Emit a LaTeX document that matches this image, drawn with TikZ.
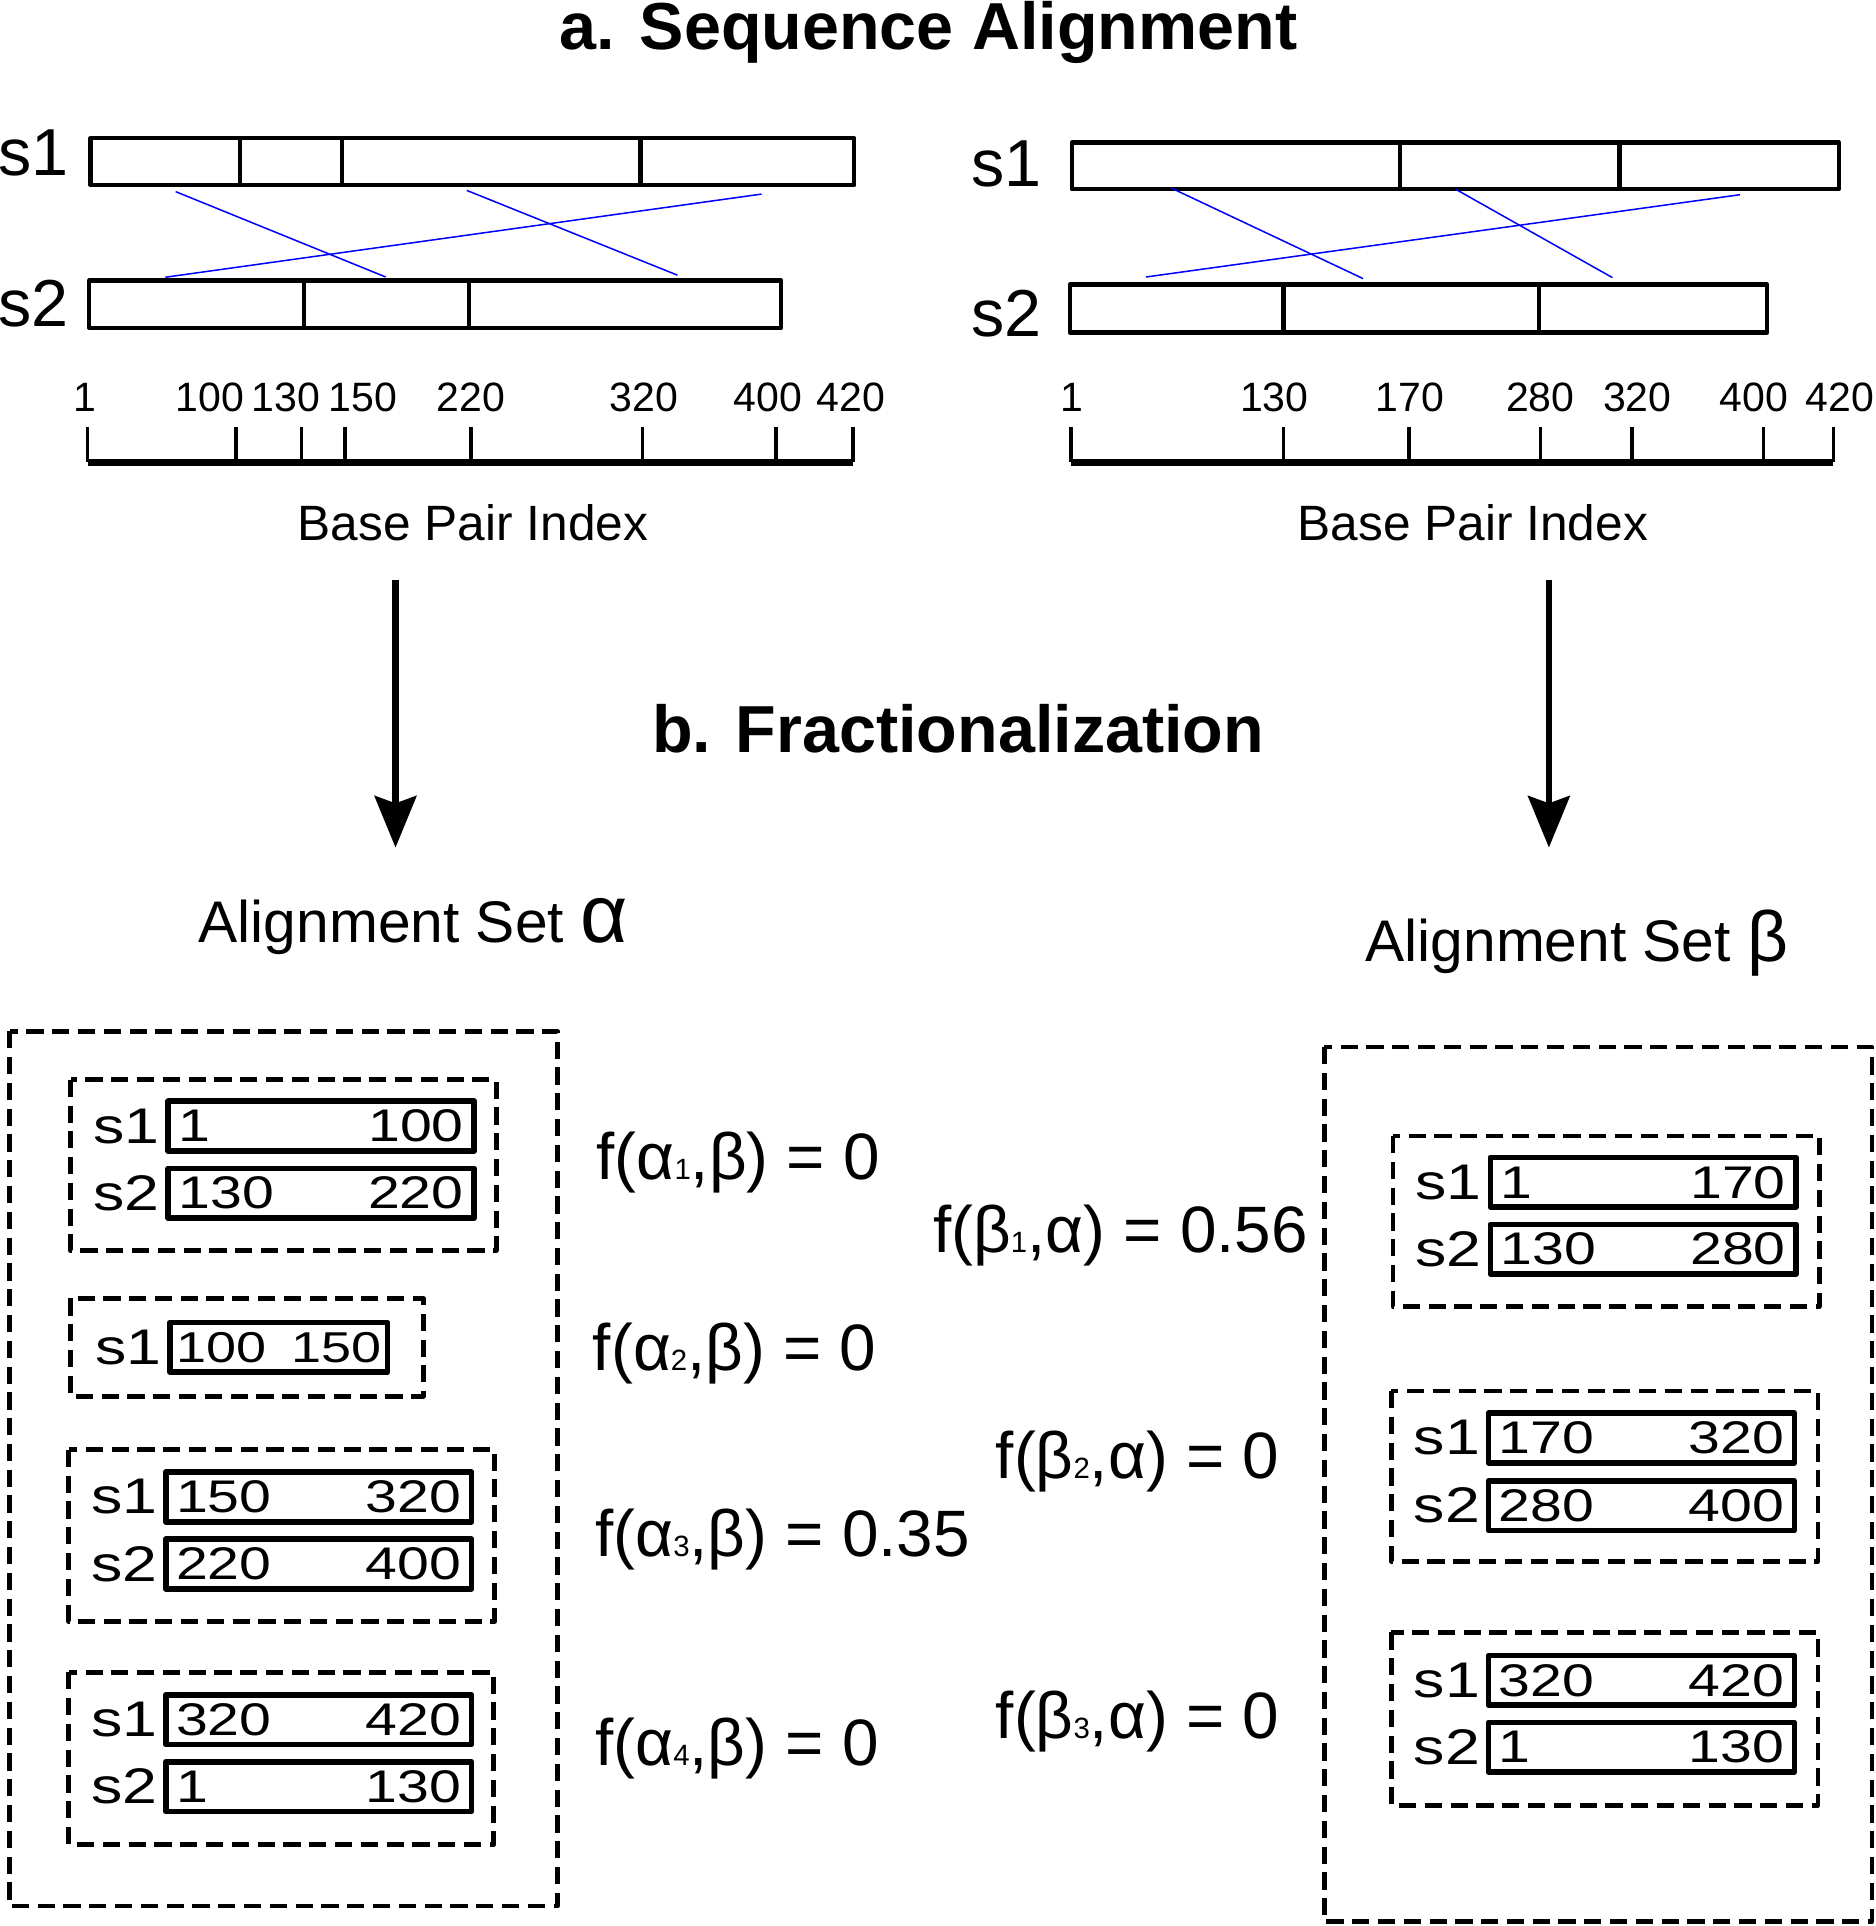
\documentclass[tikz,border=0pt]{standalone}
\usepackage{fontspec}
\setmainfont{Liberation Sans}
\newfontfamily\boxfont[FakeStretch=1.25]{Liberation Sans}
\usetikzlibrary{arrows.meta,positioning}
\setlength\parindent{0pt}
\newcommand\fsub[1]{{\fontsize{6.8}{7}\selectfont #1}}

\begin{document}
\begin{tikzpicture}[x=0.1mm, y=-0.1mm, line join=round,
	seqbar/.style={line width=1pt},
	match/.style={blue, line width=0.35pt},
	axisline/.style={line width=1.8pt},
	tickmark/.style={line width=0.8pt},
	ticklbl/.style={anchor=base, inner sep=0pt, font=\fontsize{9.5}{11}\selectfont},
	axlbl/.style={anchor=base, inner sep=0pt, font=\fontsize{11.5}{13}\selectfont},
	seqlbl/.style={anchor=base west, inner sep=0pt, font=\fontsize{15.4}{18}\selectfont},
	heading/.style={anchor=base, inner sep=0pt, font=\fontsize{15.4}{18}\selectfont\bfseries},
	flow/.style={line width=1.4pt, -{Stealth[length=4.2mm, width=3.4mm, inset=0.6mm]}},
	setlbl/.style={anchor=base west, inner sep=0pt, font=\fontsize{13.6}{16}\selectfont},
	setbox/.style={dash pattern=on 1.4mm off 0.7mm, line width=1.1pt},
	seg/.style={draw, line width=1.3pt, text width=23.2mm, inner xsep=0.85mm, inner ysep=0pt,
		minimum height=4.05mm, align=left, font=\boxfont\fontsize{10.6}{12}\selectfont},
	seglbl/.style={inner sep=0pt, font=\boxfont\fontsize{11.6}{13}\selectfont},
	score/.style={anchor=base west, inner sep=0pt, font=\fontsize{15.2}{17}\selectfont}]
	\path[use as bounding box, fill=white] (0,0) rectangle (1527,1568);

	% a. sequence alignment
	\node[heading] (ta) at (756,40) {a. Sequence Alignment};

	% left alignment
	\node[seqlbl] (ls1) at (-2,143) {s1};
	\node[seqlbl] (ls2) at (-2,266) {s2};
	\draw[seqbar] (73.6,112.5) rectangle (695.5,150.7);
	\foreach \x in {195.6,278.6,521.5} \draw[seqbar] (\x,112.5) -- (\x,150.7);
	\draw[seqbar] (72.7,228.4) rectangle (636,266.8);
	\foreach \x in {247.6,382} \draw[seqbar] (\x,228.4) -- (\x,266.8);
	\coordinate (lm1a) at (143,156);   \coordinate (lm1b) at (314,225.5);
	\coordinate (lm2a) at (380,155);   \coordinate (lm2b) at (551.5,224);
	\coordinate (lm3a) at (620,158);   \coordinate (lm3b) at (134.6,225.7);
	\foreach \m in {1,2,3} \draw[match] (lm\m a) -- (lm\m b);
	\draw[axisline] (71.3,376.5) -- (694.6,376.5);
	\foreach \x/\lx/\t in {71.3/69.4/1, 192.3/171/100, 245.3/233/130, 281/295.5/150,
		383.6/383.6/220, 523/524/320, 631.7/625/400, 694.6/692.7/420}{
		\draw[tickmark] (\x,348) -- (\x,376.5);
		\node[ticklbl] (la\t) at (\lx,335) {\t};}
	\node[axlbl] (lbp) at (385,440) {Base Pair Index};

	% right alignment
	\node[seqlbl] (rs1) at (790,152) {s1};
	\node[seqlbl] (rs2) at (790,274) {s2};
	\draw[seqbar] (872.6,116) rectangle (1497,154);
	\foreach \x in {1139.5,1318.5} \draw[seqbar] (\x,116) -- (\x,154);
	\draw[seqbar] (871,231.7) rectangle (1438.7,270.8);
	\foreach \x in {1044.8,1253} \draw[seqbar] (\x,231.7) -- (\x,270.8);
	\coordinate (rm1a) at (953.4,153);  \coordinate (rm1b) at (1109.7,226.8);
	\coordinate (rm2a) at (1185,154);   \coordinate (rm2b) at (1312.7,226);
	\coordinate (rm3a) at (1416.6,158.5); \coordinate (rm3b) at (933,225.5);
	\foreach \m in {1,2,3} \draw[match] (rm\m a) -- (rm\m b);
	\draw[axisline] (872,376.5) -- (1492.6,376.5);
	\foreach \x/\lx/\t in {872/873/1, 1045/1037.5/130, 1147/1148/170, 1254/1254/280,
		1328.6/1333/320, 1435.8/1428/400, 1492.6/1498/420}{
		\draw[tickmark] (\x,348) -- (\x,376.5);
		\node[ticklbl] (ra\t) at (\lx,335) {\t};}
	\node[axlbl] (rbp) at (1199,440) {Base Pair Index};

	% b. fractionalization
	\coordinate (arrLs) at (322,472);  \coordinate (arrLe) at (322,690);
	\coordinate (arrRs) at (1261,472); \coordinate (arrRe) at (1261,690);
	\draw[flow] (arrLs) -- (arrLe);
	\draw[flow] (arrRs) -- (arrRe);
	\node[heading] (tb) at (780,613) {b. Fractionalization};
	\node[setlbl] (setA) at (161,767) {Alignment Set {\fontsize{19}{20}\selectfont α}};
	\node[setlbl] (setB) at (1111,783) {Alignment Set {\fontsize{16.5}{18}\selectfont β}};

	% alignment set alpha
	\draw[setbox] (7.8,839.5) rectangle (454,1551.6);
	\draw[setbox] (57.5,879) rectangle (404,1018);
	\node[seg] (a1s1) at (261.5,916.8) {1\hfill 100};
	\node[seg] (a1s2) at (261.5,971.4) {130\hfill 220};
	\draw[setbox] (57.5,1057) rectangle (344.6,1136.7);
	\node[seg, text width=16.7mm, inner xsep=0.5mm, font=\boxfont\fontsize{10}{12}\selectfont]
		(a2s1) at (226.9,1096.9) {100\hfill 150};
	\draw[setbox] (56,1180.3) rectangle (402.7,1320);
	\node[seg] (a3s1) at (259.4,1218.7) {150\hfill 320};
	\node[seg] (a3s2) at (259.4,1273.3) {220\hfill 400};
	\draw[setbox] (56,1361.4) rectangle (402,1501.7);
	\node[seg] (a4s1) at (259.4,1400) {320\hfill 420};
	\node[seg] (a4s2) at (259.4,1454.5) {1\hfill 130};
	\foreach \b in {a1s1,a2s1,a3s1,a4s1} \node[seglbl, left=0.4mm of \b] (\b l) {s1};
	\foreach \b in {a1s2,a3s2,a4s2} \node[seglbl, left=0.4mm of \b] (\b l) {s2};

	% alignment set beta
	\draw[setbox] (1078,852.4) rectangle (1524,1564.6);
	\draw[setbox] (1134,924.8) rectangle (1481,1063.7);
	\node[seg] (b1s1) at (1337.8,962.5) {1\hfill 170};
	\node[seg] (b1s2) at (1337.8,1017) {130\hfill 280};
	\draw[setbox] (1132.6,1132.5) rectangle (1480,1271);
	\node[seg] (b2s1) at (1336.3,1170.7) {170\hfill 320};
	\node[seg] (b2s2) at (1336.3,1225.7) {280\hfill 400};
	\draw[setbox] (1132.6,1329) rectangle (1480,1469.6);
	\node[seg] (b3s1) at (1336.3,1368) {320\hfill 420};
	\node[seg] (b3s2) at (1336.3,1422.4) {1\hfill 130};
	\foreach \b in {b1s1,b2s1,b3s1} \node[seglbl, left=0.4mm of \b] (\b l) {s1};
	\foreach \b in {b1s2,b2s2,b3s2} \node[seglbl, left=0.4mm of \b] (\b l) {s2};

	% fractions
	\node[score] (fa1) at (485,960) {f(α\fsub{1},β) = 0};
	\node[score] (fa2) at (482,1116) {f(α\fsub{2},β) = 0};
	\node[score] (fa3) at (484,1267) {f(α\fsub{3},β) = 0.35};
	\node[score] (fa4) at (484,1437) {f(α\fsub{4},β) = 0};
	\node[score] (fb1) at (759,1020) {f(β\fsub{1},α) = 0.56};
	\node[score] (fb2) at (810,1204) {f(β\fsub{2},α) = 0};
	\node[score] (fb3) at (810,1415) {f(β\fsub{3},α) = 0};
\end{tikzpicture}
\end{document}
